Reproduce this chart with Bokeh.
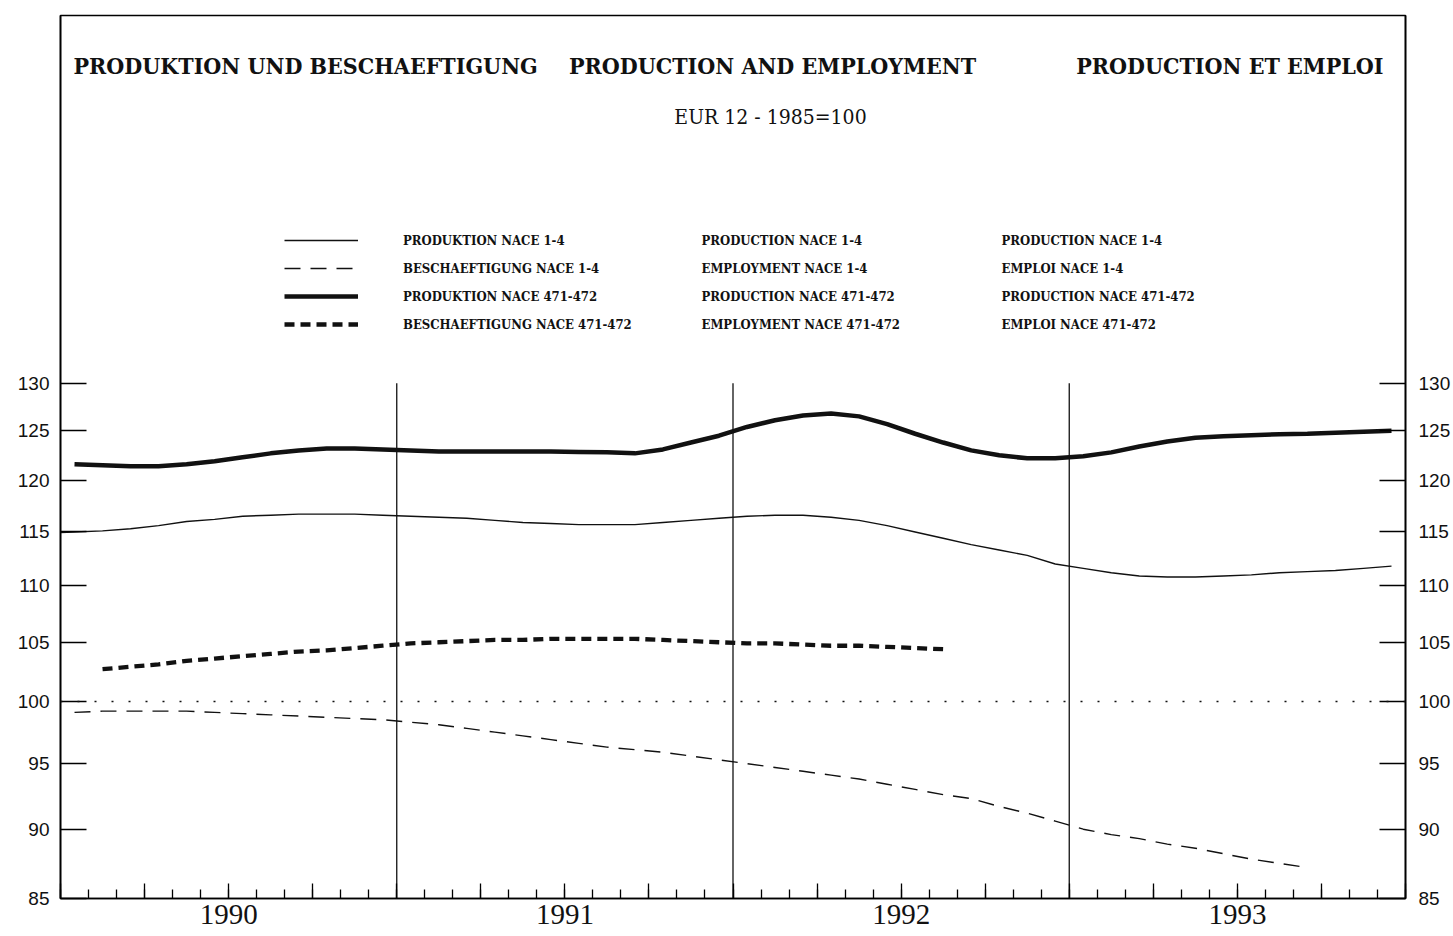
import math
from bokeh.plotting import figure
from bokeh.models import (FixedTicker, LogAxis, Span, Label, Legend, LegendItem,
                          CustomJSTickFormatter, Range1d)
from bokeh.embed import file_html
from bokeh.resources import INLINE

# ---------------- data (monthly index values, EUR 12, 1985 = 100) ----------------
# Produktion NACE 1-4 : Dec 1989 .. Dec 1993
prod_1_4 = [114.9,
            115.0, 115.1, 115.3, 115.6, 116.0, 116.2, 116.5, 116.6, 116.7, 116.7, 116.7, 116.6,
            116.5, 116.4, 116.3, 116.1, 115.9, 115.8, 115.7, 115.7, 115.7, 115.9, 116.1, 116.3,
            116.5, 116.6, 116.6, 116.4, 116.1, 115.6, 115.0, 114.4, 113.8, 113.3, 112.8, 112.0,
            111.6, 111.2, 110.9, 110.8, 110.8, 110.9, 111.0, 111.2, 111.3, 111.4, 111.6, 111.8]
# Beschaeftigung NACE 1-4 : Jan 1990 .. Sep 1993
empl_1_4 = [99.1, 99.2, 99.2, 99.2, 99.2, 99.1, 99.0, 98.9, 98.8, 98.7, 98.6, 98.5,
            98.3, 98.1, 97.8, 97.5, 97.2, 96.9, 96.6, 96.3, 96.1, 95.9, 95.6, 95.3,
            95.0, 94.7, 94.4, 94.1, 93.8, 93.4, 93.0, 92.6, 92.3, 91.7, 91.2, 90.6,
            90.0, 89.6, 89.3, 88.9, 88.6, 88.2, 87.8, 87.5, 87.2]
# Produktion NACE 471-472 : Jan 1990 .. Dec 1993
prod_471 = [121.6, 121.5, 121.4, 121.4, 121.6, 121.9, 122.3, 122.7, 123.0, 123.2, 123.2, 123.1,
            123.0, 122.9, 122.9, 122.9, 122.9, 122.9, 122.85, 122.8, 122.7, 123.1, 123.8, 124.5,
            125.4, 126.1, 126.6, 126.8, 126.5, 125.7, 124.7, 123.8, 123.0, 122.5, 122.2, 122.2,
            122.4, 122.8, 123.4, 123.9, 124.3, 124.45, 124.55, 124.65, 124.7, 124.8, 124.9, 125.0]
# Beschaeftigung NACE 471-472 : Feb 1990 .. Aug 1992
empl_471 = [102.7, 102.9, 103.1, 103.4, 103.6, 103.8, 104.0, 104.2, 104.3, 104.5, 104.7,
            104.9, 105.0, 105.1, 105.2, 105.2, 105.3, 105.3, 105.3, 105.3, 105.2, 105.1, 105.0,
            104.9, 104.9, 104.8, 104.7, 104.7, 104.6, 104.5, 104.4]

years = [1990, 1991, 1992, 1993]
y_ticks = [85, 90, 95, 100, 105, 110, 115, 120, 125, 130]

title_de = "PRODUKTION UND BESCHAEFTIGUNG"
title_en = "PRODUCTION AND EMPLOYMENT"
title_fr = "PRODUCTION ET EMPLOI"
subtitle = "EUR 12  -  1985=100"
legend_de = ["PRODUKTION NACE 1-4", "BESCHAEFTIGUNG NACE 1-4",
             "PRODUKTION NACE 471-472", "BESCHAEFTIGUNG NACE 471-472"]
legend_en = ["PRODUCTION NACE 1-4", "EMPLOYMENT NACE 1-4",
             "PRODUCTION NACE 471-472", "EMPLOYMENT NACE 471-472"]
legend_fr = ["PRODUCTION NACE 1-4", "EMPLOI NACE 1-4",
             "PRODUCTION NACE 471-472", "EMPLOI NACE 471-472"]


def series_x(start_year, start_month, n):
    out = []
    y, m = start_year, start_month
    for _ in range(n):
        out.append(y + (m - 0.5) / 12.0)
        m += 1
        if m > 12:
            m = 1
            y += 1
    return out


x_p14 = series_x(1989, 12, len(prod_1_4))
x_e14 = series_x(1990, 1, len(empl_1_4))
x_p471 = series_x(1990, 1, len(prod_471))
x_e471 = series_x(1990, 2, len(empl_471))

# ---------------- figure ----------------
W, H = 1453, 936
Y_LO = 85
Y_HI = 176.06

p = figure(width=W, height=H,
           x_range=Range1d(years[0], years[-1] + 1),
           y_range=Range1d(Y_LO, Y_HI),
           y_axis_type="log",
           output_backend="svg", toolbar_location=None,
           min_border_left=60, min_border_right=48, min_border_top=15, min_border_bottom=38)

p.background_fill_color = "white"
p.border_fill_color = "white"
p.outline_line_color = "black"
p.outline_line_width = 1.6
p.xgrid.visible = False
p.ygrid.visible = False

BLACK = "#111111"
SERIF_C = "DejaVu Serif Condensed"

# x axis : quarter ticks (longer), month ticks (shorter), year labels mid-year
quarters = [years[0] + q * 0.25 for q in range(4 * len(years) + 1)]
months_t = [years[0] + k / 12.0 for k in range(12 * len(years) + 1)]
xa = p.xaxis[0]
xa.ticker = FixedTicker(ticks=quarters, minor_ticks=months_t)
xa.formatter = CustomJSTickFormatter(code="""
    var f = Math.floor(tick + 1e-9);
    return (Math.abs(tick - f - 0.5) < 1e-6) ? String(f) : '';
""")
xa.major_tick_in = 15
xa.major_tick_out = 0
xa.minor_tick_in = 9
xa.minor_tick_out = 0
xa.axis_line_width = 1.6
xa.major_tick_line_width = 1.3
xa.minor_tick_line_width = 1.3
xa.major_label_text_font = "Liberation Serif"
xa.major_label_text_font_size = "29px"
xa.major_label_text_color = BLACK
xa.major_label_standoff = 6

ytick_fmt = CustomJSTickFormatter(code="return String(Math.round(tick));")


def style_y(ax, standoff):
    ax.ticker = FixedTicker(ticks=y_ticks)
    ax.formatter = ytick_fmt
    ax.major_tick_in = 26
    ax.major_tick_out = 0
    ax.minor_tick_in = 0
    ax.minor_tick_out = 0
    ax.axis_line_width = 1.6
    ax.major_tick_line_width = 1.5
    ax.major_label_text_font = "Liberation Sans"
    ax.major_label_text_font_size = "19px"
    ax.major_label_text_color = BLACK
    ax.major_label_standoff = standoff


style_y(p.yaxis[0], 11)
ra = LogAxis()
style_y(ra, 13)
p.add_layout(ra, "right")

# reference line at 100 and year separators
p.add_layout(Span(location=100, dimension="width", line_color=BLACK,
                  line_width=1.4, line_dash="2 15"))
p.segment(x0=years[1:], y0=[y_ticks[0]] * 3, x1=years[1:], y1=[y_ticks[-1]] * 3,
          line_color=BLACK, line_width=1.3)

# series
r1 = p.line(x_p14, prod_1_4, line_color=BLACK, line_width=1.4)
r2 = p.line(x_e14, empl_1_4, line_color=BLACK, line_width=1.4, line_dash="16 10")
r3 = p.line(x_p471, prod_471, line_color=BLACK, line_width=4.5)
r4 = p.line(x_e471, empl_471, line_color=BLACK, line_width=4.3, line_dash="10 6")

ROW = 28
LEG_TOP = 672  # frame-relative (from bottom) top of legend block
legend = Legend(items=[LegendItem(label=t, renderers=[r]) for t, r in zip(legend_de, [r1, r2, r3, r4])],
                location=(224, LEG_TOP - 4 * ROW), orientation="vertical",
                glyph_width=74, glyph_height=ROW, label_height=ROW, label_standoff=45,
                spacing=0, padding=0, margin=0,
                border_line_alpha=0, background_fill_alpha=0,
                label_text_font=SERIF_C, label_text_font_style="bold",
                label_text_font_size="13px", label_text_color=BLACK)
p.add_layout(legend)

for i in range(4):
    yy = LEG_TOP - ROW / 2 - ROW * i
    p.add_layout(Label(x=641, y=yy, x_units="screen", y_units="screen", text=legend_en[i],
                       text_baseline="middle", text_font=SERIF_C, text_font_style="bold",
                       text_font_size="13px", text_color=BLACK))
    p.add_layout(Label(x=941, y=yy, x_units="screen", y_units="screen", text=legend_fr[i],
                       text_baseline="middle", text_font=SERIF_C, text_font_style="bold",
                       text_font_size="13px", text_color=BLACK))

# titles
TY = 833
TSIZE = "23px"
p.add_layout(Label(x=13, y=TY, x_units="screen", y_units="screen", text=title_de,
                   text_align="left", text_baseline="middle", text_font=SERIF_C,
                   text_font_style="bold", text_font_size=TSIZE, text_color=BLACK))
p.add_layout(Label(x=712, y=TY, x_units="screen", y_units="screen", text=title_en,
                   text_align="center", text_baseline="middle", text_font=SERIF_C,
                   text_font_style="bold", text_font_size=TSIZE, text_color=BLACK))
p.add_layout(Label(x=1323, y=TY, x_units="screen", y_units="screen", text=title_fr,
                   text_align="right", text_baseline="middle", text_font=SERIF_C,
                   text_font_style="bold", text_font_size=TSIZE, text_color=BLACK))
p.add_layout(Label(x=716, y=782, x_units="screen", y_units="screen", text=subtitle,
                   text_align="center", text_baseline="middle", text_font=SERIF_C,
                   text_font_size="21px", text_color=BLACK))

open("out.html", "w").write(file_html(p, INLINE))
